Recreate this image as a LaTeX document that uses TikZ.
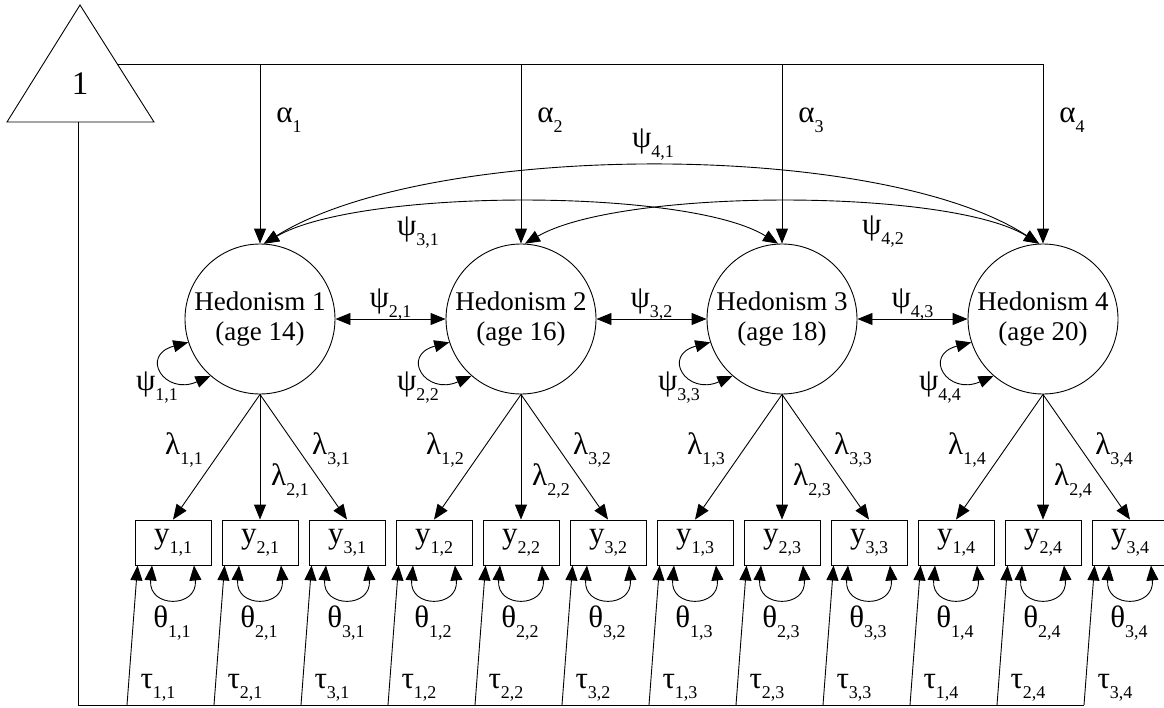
\documentclass[tikz,border=0pt]{standalone}
\usepackage{fontspec}
\setmainfont{Liberation Serif}
\usetikzlibrary{arrows.meta,calc}
\newcommand{\gsym}[2]{{\fontsize{31}{31}\selectfont #1}\raisebox{-10pt}{\fontsize{18}{18}\selectfont #2}}
\begin{document}
\begin{tikzpicture}[x=1pt,y=-1pt, line width=0.9pt,
  >={Triangle[length=15pt,width=12pt]},
  lat/.style={circle,draw,minimum size=150pt,inner sep=0pt,align=center,font=\fontsize{27}{30}\selectfont},
  obs/.style={rectangle,draw,minimum width=76pt,minimum height=45pt,inner sep=0pt},
  lbl/.style={inner sep=0pt},
]
\useasboundingbox (0,0) rectangle (1164,707);

% constant triangle
\coordinate (tA) at (80,5);
\coordinate (tL) at (7,122);
\coordinate (tR) at (154,122);
\draw (tA) -- (tR) -- (tL) -- cycle;
\node[lbl, font=\fontsize{33}{33}\selectfont] (one) at (80,84) {1};
\coordinate (tE) at (117.3,64);
\coordinate (tB) at (78,122);

% latent variables
\foreach \j/\X/\age in {1/260/14,2/521/16,3/782/18,4/1043/20} {
  \node[lat] (L\j) at (\X,319) {Hedonism \j\\(age \age)};
  \coordinate (a\j) at (\X,64);
  \node[lbl] (al\j) at ({\X+29},120) {\gsym{α}{\j}};
  \draw[<->] (L\j.229) .. controls +(-46,20) and +(-49,13) .. (L\j.198);
  \node[lbl] (ps\j\j) at ({\X-103},388) {\gsym{ψ}{\j,\j}};
  \foreach \i in {1,2,3} {
    \node[obs] (y\i\j) at ({\X+(\i-2)*87},542.5) {\gsym{y}{\i,\j}};
    \draw[->] (L\j.south) -- (y\i\j.north);
    \draw[<->] ($(y\i\j.south)+(-21,0)$) .. controls +(-4,43) and +(4,43) .. ($(y\i\j.south)+(21,0)$);
    \node[lbl] (th\i\j) at ({\X+(\i-2)*87-1},623) {\gsym{θ}{\i,\j}};
    \coordinate (t\i\j) at ({\X+(\i-2)*87-46},705);
    \draw[->] (t\i\j) -- ($(y\i\j.south west)+(3,0)$);
    \node[lbl] (ta\i\j) at ({\X+(\i-2)*87-15},688) {\gsym{τ}{\i,\j}};
  }
  \node[lbl] (la1\j) at ({\X-76},450) {\gsym{λ}{1,\j}};
  \node[lbl] (la2\j) at ({\X+30},481) {\gsym{λ}{2,\j}};
  \node[lbl] (la3\j) at ({\X+71},450) {\gsym{λ}{3,\j}};
}

% mean structure lines
\draw (tE) -- (a4);
\foreach \j in {1,2,3,4} { \draw[->] (a\j) -- (L\j); }
\draw (tB) |- (t34);

% covariances between adjacent latents
\draw[<->] (L1) -- (L2);
\draw[<->] (L2) -- (L3);
\draw[<->] (L3) -- (L4);
\node[lbl] (ps21) at (390.5,305) {\gsym{ψ}{2,1}};
\node[lbl] (ps32) at (651.5,305) {\gsym{ψ}{3,2}};
\node[lbl] (ps43) at (912.5,305) {\gsym{ψ}{4,3}};

% long covariances
\draw[<->] (L1.87) .. controls (430,140) and (880,140) .. (L4.93);
\draw[<->] (L1.87) .. controls (360,188) and (688,188) .. (L3.93);
\draw[<->] (L2.87) .. controls (621,188) and (949,188) .. (L4.93);
\node[lbl] (ps41) at (653,145) {\gsym{ψ}{4,1}};
\node[lbl] (ps31) at (418,233) {\gsym{ψ}{3,1}};
\node[lbl] (ps42) at (883,232) {\gsym{ψ}{4,2}};
\end{tikzpicture}
\end{document}
